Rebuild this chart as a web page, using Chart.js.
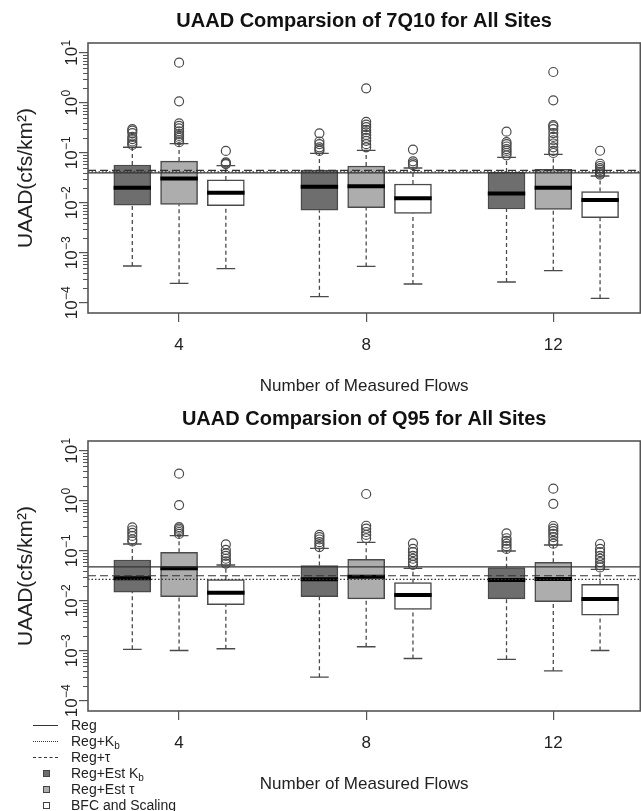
<!DOCTYPE html>
<html>
<head>
<meta charset="utf-8">
<script src="https://cdn.jsdelivr.net/npm/chart.js@4.4.1/dist/chart.umd.min.js"></script>
<style>
  html, body { margin: 0; padding: 0; background: #ffffff; }
  body { width: 641px; height: 811px; overflow: hidden; position: relative;
         font-family: "Liberation Sans", Arial, Helvetica, sans-serif; color: #222; }
  .wrap { position: absolute; left: 0; width: 646px; }
  #w1 { top: 0; height: 398px; }
  #w2 { top: 398px; height: 413px; }
  #legend { position: absolute; left: 0; top: 717px; width: 200px; font-size: 14px; color: #222; }
  #legend .row { position: relative; height: 16px; line-height: 16px; }
  #legend .txt { position: absolute; left: 71px; top: 0; white-space: nowrap; }
  #legend sub { font-size: 10px; vertical-align: -3px; line-height: 0; }
  #legend .ln { position: absolute; left: 33px; width: 25px; top: 8px; height: 0; border-top: 1px solid #333; }
  #legend .ln.dot { border-top-style: dotted; }
  #legend .ln.dash { border-top-style: dashed; }
  #legend .sq { position: absolute; left: 43px; top: 5px; width: 5px; height: 5px; border: 1px solid #444; }
</style>
</head>
<body>
<div class="wrap" id="w1"><canvas id="c1"></canvas></div>
<div class="wrap" id="w2"><canvas id="c2"></canvas></div>
<div id="legend">
  <div class="row"><span class="ln"></span><span class="txt">Reg</span></div>
  <div class="row"><span class="ln dot"></span><span class="txt">Reg+K<sub>b</sub></span></div>
  <div class="row"><span class="ln dash"></span><span class="txt">Reg+τ</span></div>
  <div class="row"><span class="sq" style="background:#6e6e6e"></span><span class="txt">Reg+Est K<sub>b</sub></span></div>
  <div class="row"><span class="sq" style="background:#adadad"></span><span class="txt">Reg+Est τ</span></div>
  <div class="row"><span class="sq" style="background:#ffffff"></span><span class="txt">BFC and Scaling</span></div>
</div>
<script>
// ---------------- DATA ----------------
const flows = [4, 8, 12];                 // Number of measured flows (x ticks)
const xTickLabels = ['4', '8', '12'];
const yTickExponents = [-4, -3, -2, -1, 0, 1];
const seriesNames = ['Reg+Est Kb', 'Reg+Est τ', 'BFC and Scaling'];
const refNames = ['Reg', 'Reg+Kb', 'Reg+τ'];

// 5-number summaries per group [lower whisker, Q1, median, Q3, upper whisker]
// --- 7Q10 ---
const q7EstKb = [[0.00055, 0.0091, 0.0203, 0.0575, 0.130],
                 [0.000134, 0.0072, 0.0212, 0.0457, 0.0985],
                 [0.000263, 0.0076, 0.0154, 0.0415, 0.0819]];
const q7EstTau = [[0.000247, 0.0094, 0.031, 0.069, 0.154],
                  [0.00054, 0.0081, 0.0216, 0.055, 0.113],
                  [0.000444, 0.0074, 0.0203, 0.047, 0.094]];
const q7Bfc = [[0.000486, 0.0088, 0.0161, 0.029, 0.0558],
               [0.00024, 0.0062, 0.0124, 0.024, 0.050],
               [0.000124, 0.0051, 0.0115, 0.0169, 0.0347]];
const q7EstKbOut = [[0.30, 0.28, 0.25, 0.21, 0.19, 0.17, 0.155, 0.145],
                    [0.247, 0.17, 0.15, 0.13, 0.12, 0.11],
                    [0.267, 0.165, 0.15, 0.135, 0.12, 0.11, 0.10, 0.09]];
const q7EstTauOut = [[6.4, 1.08, 0.39, 0.35, 0.31, 0.27, 0.24, 0.22, 0.20, 0.18, 0.165],
                     [1.97, 0.42, 0.37, 0.33, 0.29, 0.26, 0.23, 0.20, 0.175, 0.15, 0.13],
                     [4.17, 1.13, 0.363, 0.34, 0.30, 0.25, 0.21, 0.18, 0.155, 0.13, 0.11, 0.10]];
const q7BfcOut = [[0.11, 0.065, 0.062, 0.060],
                  [0.117, 0.068, 0.062, 0.057],
                  [0.111, 0.061, 0.055, 0.050, 0.046, 0.042, 0.039, 0.037]];
const q7Ref = [0.040, 0.042, 0.045];      // Reg, Reg+Kb, Reg+τ

// --- Q95 ---
const q95EstKb = [[0.00108, 0.0151, 0.0284, 0.066, 0.138],
                  [0.00030, 0.0122, 0.0271, 0.051, 0.113],
                  [0.00068, 0.0110, 0.0263, 0.0465, 0.100]];
const q95EstTau = [[0.00102, 0.0122, 0.045, 0.094, 0.203],
                   [0.00122, 0.0110, 0.0307, 0.068, 0.149],
                   [0.00040, 0.0097, 0.0275, 0.0593, 0.132]];
const q95Bfc = [[0.00111, 0.00845, 0.0147, 0.0267, 0.0525],
                [0.00071, 0.0068, 0.0132, 0.0233, 0.045],
                [0.00102, 0.0052, 0.0110, 0.0216, 0.043]];
const q95EstKbOut = [[0.297, 0.26, 0.23, 0.20, 0.17, 0.155],
                     [0.21, 0.19, 0.17, 0.15, 0.135, 0.12],
                     [0.225, 0.18, 0.16, 0.14, 0.125, 0.11]];
const q95EstTauOut = [[3.52, 0.83, 0.30, 0.28, 0.26, 0.24, 0.22],
                      [1.38, 0.32, 0.28, 0.24, 0.21, 0.18],
                      [1.76, 0.88, 0.316, 0.28, 0.25, 0.22, 0.19, 0.16, 0.14]];
const q95BfcOut = [[0.136, 0.105, 0.09, 0.08, 0.07, 0.062, 0.056],
                   [0.142, 0.11, 0.095, 0.08, 0.07, 0.06, 0.053],
                   [0.138, 0.11, 0.095, 0.08, 0.07, 0.06, 0.052, 0.047]];
const q95Ref = [0.048, 0.027, 0.032];     // Reg, Reg+Kb, Reg+τ

// ---------------- STYLE / LAYOUT ----------------
const FONT = "'Liberation Sans', Arial, Helvetica, sans-serif";
Chart.defaults.font.family = FONT;
Chart.defaults.color = '#222';
const X_MIN = 2.053, X_MAX = 13.86;
const Y_MIN = Math.pow(10, -4.2), Y_MAX = Math.pow(10, 1.2);
const BOX_HALF = 0.4, CAP_HALF = 0.2;     // box and staple half-widths in x units
const fills = ['#6e6e6e', '#adadad', '#ffffff'];
const refDash = [[], [1.5, 2], [8, 4]];
const axisColor = '#555';

const framePlugin = {
  id: 'frameAndLogAxis',
  afterDraw(chart) {
    const ctx = chart.ctx, a = chart.chartArea, y = chart.scales.y;
    ctx.save();
    ctx.strokeStyle = axisColor;
    ctx.lineWidth = 1.6;
    ctx.strokeRect(a.left, a.top, a.right - a.left, a.bottom - a.top);
    // minor log ticks
    ctx.lineWidth = 1;
    ctx.beginPath();
    for (let e = yTickExponents[0]; e < yTickExponents[yTickExponents.length - 1]; e++) {
      for (let m = 2; m <= 9; m++) {
        const p = Math.round(y.getPixelForValue(m * Math.pow(10, e))) + 0.5;
        ctx.moveTo(a.left - 5, p); ctx.lineTo(a.left, p);
      }
    }
    ctx.stroke();
    // rotated tick labels 10^e
    ctx.fillStyle = '#222';
    yTickExponents.forEach(e => {
      const p = y.getPixelForValue(Math.pow(10, e));
      const base = '10', sup = String(e).replace('-', '\u2212');
      ctx.font = '17px ' + FONT;
      const wb = ctx.measureText(base).width;
      ctx.font = '12px ' + FONT;
      const ws = ctx.measureText(sup).width;
      const total = wb + ws;
      ctx.save();
      ctx.translate(77, p);
      ctx.rotate(-Math.PI / 2);
      ctx.textBaseline = 'alphabetic';
      ctx.textAlign = 'left';
      ctx.font = '17px ' + FONT;
      ctx.fillText(base, -total / 2, 0);
      ctx.font = '12px ' + FONT;
      ctx.fillText(sup, -total / 2 + wb + 0.5, -7);
      ctx.restore();
    });
    ctx.restore();
  }
};

function buildDatasets(stats, outs, refs) {
  const ds = [];
  stats.forEach((ser, s) => {
    const whisk = [], box = [], med = [], caps = [], out = [];
    ser.forEach((st, g) => {
      const x = flows[g] + (s - 1);
      const [lo, q1, m, q3, hi] = st;
      whisk.push({x, y: lo}, {x, y: q1}, {x, y: null}, {x, y: q3}, {x, y: hi}, {x, y: null});
      box.push({x, y: [q1, q3]});
      med.push({x: x - BOX_HALF, y: m}, {x: x + BOX_HALF, y: m}, {x, y: null});
      caps.push({x: x - CAP_HALF, y: lo}, {x: x + CAP_HALF, y: lo}, {x, y: null},
                {x: x - CAP_HALF, y: hi}, {x: x + CAP_HALF, y: hi}, {x, y: null});
      outs[s][g].forEach(v => out.push({x, y: v}));
    });
    ds.push({type: 'line', label: seriesNames[s] + ' whisker', data: whisk, borderColor: '#4a4a4a',
             borderWidth: 1.3, borderDash: [4, 3], pointRadius: 0, spanGaps: false, order: 9});
    ds.push({type: 'bar', label: seriesNames[s], data: box, backgroundColor: fills[s],
             borderColor: '#4a4a4a', borderWidth: 1.5, borderSkipped: false, barThickness: 37,
             grouped: false, order: 8});
    ds.push({type: 'line', label: seriesNames[s] + ' cap', data: caps, borderColor: '#4a4a4a',
             borderWidth: 1.4, pointRadius: 0, spanGaps: false, order: 7});
    ds.push({type: 'line', label: seriesNames[s] + ' median', data: med, borderColor: '#000',
             borderWidth: 4, pointRadius: 0, spanGaps: false, borderCapStyle: 'butt', order: 6});
    ds.push({type: 'scatter', label: seriesNames[s] + ' outliers', data: out, pointStyle: 'circle',
             pointRadius: 4.5, pointBorderColor: '#4a4a4a', pointBackgroundColor: 'rgba(255,255,255,0)',
             pointBorderWidth: 1.2, order: 5});
  });
  refs.forEach((v, i) => {
    ds.push({type: 'line', label: refNames[i], data: [{x: X_MIN, y: v}, {x: X_MAX, y: v}],
             borderColor: '#333', borderWidth: 1.2, borderDash: refDash[i], pointRadius: 0, order: 1});
  });
  return ds;
}

function makeChart(id, title, stats, outs, refs, padBottom) {
  return new Chart(document.getElementById(id), {
    type: 'bar',
    data: { datasets: buildDatasets(stats, outs, refs) },
    options: {
      responsive: true, maintainAspectRatio: false, animation: false, events: [],
      layout: { padding: { left: 0, right: 0, top: 0, bottom: padBottom } },
      plugins: {
        legend: { display: false }, tooltip: { enabled: false },
        title: { display: true, text: title, fullSize: false, color: '#111',
                 font: { size: 20, weight: 'bold' }, padding: { top: 9, bottom: 10 } }
      },
      scales: {
        x: {
          type: 'linear', min: X_MIN, max: X_MAX, offset: false,
          afterBuildTicks: sc => { sc.ticks = flows.map(v => ({value: v})); },
          afterFit: sc => { sc.height = 85; sc.paddingLeft = 0; sc.paddingRight = 0; },
          ticks: { callback: (v) => xTickLabels[flows.indexOf(v)] ?? '', font: { size: 17 },
                   color: '#222', padding: 13, maxRotation: 0 },
          grid: { drawOnChartArea: false, drawTicks: true, tickLength: 9, color: axisColor,
                  offset: false, lineWidth: 1.2 },
          border: { display: false },
          title: { display: true, text: 'Number of Measured Flows', font: { size: 17 },
                   color: '#222', padding: { top: 0, bottom: 1 } }
        },
        y: {
          type: 'logarithmic', min: Y_MIN, max: Y_MAX,
          afterBuildTicks: sc => { sc.ticks = yTickExponents.map(e => ({value: Math.pow(10, e)})); },
          afterFit: sc => { sc.width = 88; },
          ticks: { display: false },
          grid: { drawOnChartArea: false, drawTicks: true, tickLength: 9, color: axisColor, lineWidth: 1.2 },
          border: { display: false },
          title: { display: true, text: 'UAAD(cfs/km²)', font: { size: 21 }, color: '#222',
                   padding: { top: 14, bottom: 0 } }
        }
      }
    },
    plugins: [framePlugin]
  });
}

makeChart('c1', 'UAAD Comparsion of 7Q10 for All Sites',
          [q7EstKb, q7EstTau, q7Bfc], [q7EstKbOut, q7EstTauOut, q7BfcOut], q7Ref, 0);
makeChart('c2', 'UAAD Comparsion of Q95 for All Sites',
          [q95EstKb, q95EstTau, q95Bfc], [q95EstKbOut, q95EstTauOut, q95BfcOut], q95Ref, 15);
</script>
</body>
</html>
